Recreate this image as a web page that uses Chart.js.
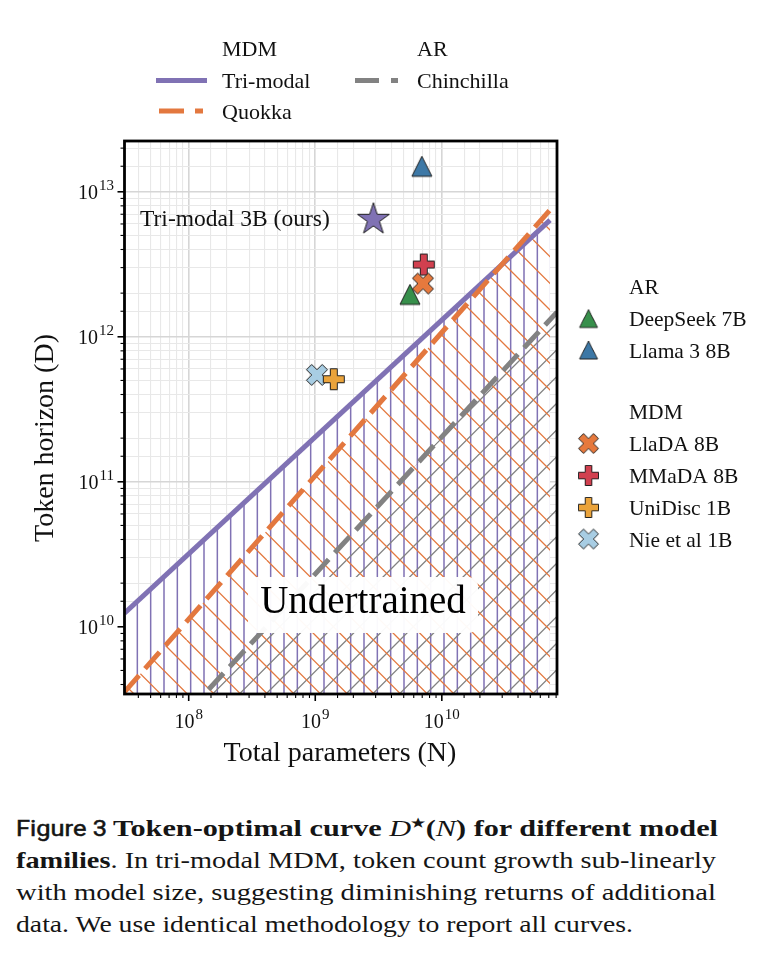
<!DOCTYPE html>
<html>
<head>
<meta charset="utf-8">
<script src="https://cdn.jsdelivr.net/npm/chart.js@4.4.1/dist/chart.umd.min.js"></script>
<style>
  body { margin: 0; background: #fff; width: 772px; height: 955px; overflow: hidden; position: relative; }
  #chart { position: absolute; left: 0; top: 0; }
  .cap { position: absolute; left: 16px; height: 32px; width: 740px; }
  .cap span.t { position: absolute; top: 0; white-space: nowrap; font-family: "Liberation Serif", "DejaVu Serif", serif;
                font-size: 23px; line-height: 32px; color: #151515; transform-origin: 0 50%; }
  .cap span.fig { font-family: Roboto, "Liberation Sans", sans-serif; font-weight: 400; font-size: 22px;
                  -webkit-text-stroke: 0.5px #151515; }
  .cap i { font-weight: normal; }
  .cap sup { font-size: 12px; vertical-align: 9px; line-height: 0; }
</style>
</head>
<body>
<canvas id="chart" width="772" height="790"></canvas>
<div class="cap" style="top:813px">
  <span class="t fig" data-w="91" style="left:0">Figure 3</span>
  <span class="t" data-w="605" style="left:97px"><b>Token-optimal curve <i>D</i><sup>★</sup>(<i>N</i>) for different model</b></span>
</div>
<div class="cap" style="top:845px"><span class="t" data-w="700" style="left:0"><b>families</b>. In tri-modal MDM, token count growth sub-linearly</span></div>
<div class="cap" style="top:877px"><span class="t" data-w="700" style="left:0">with model size, suggesting diminishing returns of additional</span></div>
<div class="cap" style="top:909px"><span class="t" data-w="617" style="left:0">data. We use identical methodology to report all curves.</span></div>
<script>
// token-optimal curves (N = total parameters, D = tokens), read at the line ends
const triModalN = [3.11e7, 7.16e10]
const triModalD = [1.24e10, 6.38e12]
const quokkaN = [3.11e7, 7.16e10]
const quokkaD = [3.56e9, 7.5e12]
const chinchillaN = [3.11e7, 8.13e10]
const chinchillaD = [8.7e8, 1.48e12]

// trained models
const modelNames = ['DeepSeek 7B', 'Llama 3 8B', 'LlaDA 8B', 'MMaDA 8B', 'UniDisc 1B', 'Nie et al 1B']
const modelFamily = ['AR', 'AR', 'MDM', 'MDM', 'MDM', 'MDM']
const modelN = [5.6e9, 6.95e9, 7.1e9, 7.2e9, 1.4e9, 1.03e9]
const modelD = [1.96e12, 1.5e13, 2.33e12, 3.15e12, 5.1e11, 5.46e11]
const oursName = 'Tri-modal 3B (ours)'
const oursN = [2.88e9]
const oursD = [6.6e12]

const xRange = [3.11e7, 8.13e10]
const yRange = [3.44e9, 2.24e13]
const xTickExps = [8, 9, 10]
const yTickExps = [10, 11, 12, 13]

const PURPLE = '#8072b4'
const ORANGE = '#e3783f'
const GREY = '#828282'
const modelColors = ['#378f4b', '#3d78a6', '#e6793d', '#d1404f', '#eaa33b', '#a8cde3']
const modelShapes = ['triangle', 'triangle', 'x', 'plus', 'plus', 'x']
const SERIF = '"Liberation Serif", "DejaVu Serif", serif'

const canvas = document.getElementById('chart')
const ctx = canvas.getContext('2d')

const hatch = (kind, color, width, face) => {
  const t = document.createElement('canvas')
  t.width = 80
  t.height = 80
  const g = t.getContext('2d')
  if (face) {
    g.fillStyle = face
    g.fillRect(0, 0, 80, 80)
  }
  g.strokeStyle = color
  g.lineWidth = width
  g.beginPath()
  if (kind === '|') {
    for (let k = 0; k < 6; k++) {
      const x = 80 / 6 * k + 4
      g.moveTo(x, 0)
      g.lineTo(x, 80)
    }
  } else {
    const s = 80 / 3
    for (let k = -4; k <= 4; k++) {
      if (kind === '\\') {
        g.moveTo(k * s, 0)
        g.lineTo(k * s + 80, 80)
      } else {
        g.moveTo(k * s, 80)
        g.lineTo(k * s + 80, 0)
      }
    }
  }
  g.stroke()
  return ctx.createPattern(t, 'repeat')
}

const marker = (shape, color) => {
  const size = shape === 'star' ? 38 : 26
  const c = document.createElement('canvas')
  c.width = size
  c.height = size
  const g = c.getContext('2d')
  let pts = []
  if (shape === 'triangle') {
    pts = [[0, -10], [-10, 10], [10, 10]]
  } else if (shape === 'plus') {
    const u = 10.5 / 3
    pts = [[-1, -3], [-1, -1], [-3, -1], [-3, 1], [-1, 1], [-1, 3], [1, 3], [1, 1], [3, 1], [3, -1], [1, -1], [1, -3]]
      .map(([a, b]) => [a * u, b * u])
  } else if (shape === 'x') {
    const u = 10.5 / 2
    pts = [[-1, -2], [0, -1], [1, -2], [2, -1], [1, 0], [2, 1], [1, 2], [0, 1], [-1, 2], [-2, 1], [-1, 0], [-2, -1]]
      .map(([a, b]) => [a * u, b * u])
  } else {
    for (let i = 0; i < 10; i++) {
      const a = (-90 + i * 36) * Math.PI / 180
      const r = i % 2 ? 16.8 * 0.381966 : 16.8
      pts.push([r * Math.cos(a), r * Math.sin(a) + 1.5])
    }
  }
  g.translate(size / 2, size / 2)
  g.beginPath()
  pts.forEach(([a, b], i) => i ? g.lineTo(a, b) : g.moveTo(a, b))
  g.closePath()
  g.fillStyle = color
  g.fill()
  g.strokeStyle = '#202020'
  g.lineWidth = 1
  g.stroke()
  return c
}

const modelMarkers = modelNames.map((_, i) => marker(modelShapes[i], modelColors[i]))
const starMarker = marker('star', PURPLE)

const pts = (xs, ys) => xs.map((x, i) => ({ x, y: ys[i] }))

const isMajor = (v) => Math.abs(Math.log10(v) - Math.round(Math.log10(v))) < 1e-6

const drawPower = (c, exp, x, y, align) => {
  c.font = '20px ' + SERIF
  const bw = c.measureText('10').width
  c.font = '15px ' + SERIF
  const sw = c.measureText(String(exp)).width
  const total = bw + 1 + sw
  const left = align === 'right' ? x - total : x - total / 2
  c.textAlign = 'left'
  c.textBaseline = 'alphabetic'
  c.font = '20px ' + SERIF
  c.fillText('10', left, y)
  c.font = '15px ' + SERIF
  c.fillText(String(exp), left + bw + 1, y - 9)
}

const decor = {
  id: 'decor',
  afterDatasetsDraw (chart) {
    const c = chart.ctx
    // "Undertrained" label box
    c.save()
    c.fillStyle = 'rgba(255,255,255,0.96)'
    c.beginPath()
    c.roundRect(248, 577, 230, 56, 9)
    c.fill()
    c.fillStyle = '#000'
    c.font = '39px ' + SERIF
    c.textAlign = 'center'
    c.textBaseline = 'alphabetic'
    c.fillText('Undertrained', 363, 613)
    c.font = '23.5px ' + SERIF
    c.textAlign = 'left'
    c.fillStyle = '#111'
    c.fillText(oursName, 140, 226)
    c.restore()
  },
  afterDraw (chart) {
    const c = chart.ctx
    const { left, right, top, bottom } = chart.chartArea
    const xs = chart.scales.x
    const ys = chart.scales.y
    c.save()
    // tick marks
    c.strokeStyle = '#000'
    xs.ticks.forEach((t) => {
      if (t.value <= xRange[0] || t.value >= xRange[1]) return
      const p = xs.getPixelForValue(t.value)
      const major = isMajor(t.value)
      c.lineWidth = major ? 1.6 : 1.1
      c.beginPath()
      c.moveTo(p, bottom)
      c.lineTo(p, bottom + (major ? 7 : 4))
      c.stroke()
    })
    ys.ticks.forEach((t) => {
      if (t.value <= yRange[0] || t.value >= yRange[1]) return
      const p = ys.getPixelForValue(t.value)
      const major = isMajor(t.value)
      c.lineWidth = major ? 1.6 : 1.1
      c.beginPath()
      c.moveTo(left, p)
      c.lineTo(left - (major ? 7 : 4), p)
      c.stroke()
    })
    // frame
    c.lineWidth = 2.8
    c.strokeRect(left, top, right - left, bottom - top)
    // tick labels
    c.fillStyle = '#111'
    xTickExps.forEach((e) => drawPower(c, e, xs.getPixelForValue(Math.pow(10, e)), 728, 'center'))
    yTickExps.forEach((e) => drawPower(c, e, 114, ys.getPixelForValue(Math.pow(10, e)) + 7, 'right'))
    // axis titles
    c.font = '28px ' + SERIF
    c.textAlign = 'center'
    c.textBaseline = 'alphabetic'
    c.fillText('Total parameters (N)', 340, 761)
    c.save()
    c.translate(53, 438)
    c.rotate(-Math.PI / 2)
    c.fillText('Token horizon (D)', 0, 0)
    c.restore()
    // top legend
    c.font = '22px ' + SERIF
    c.textAlign = 'left'
    c.fillText('MDM', 222, 56)
    c.fillText('AR', 417, 56)
    c.fillText('Tri-modal', 222, 88)
    c.fillText('Quokka', 222, 119)
    c.fillText('Chinchilla', 417, 88)
    c.lineWidth = 5
    c.lineCap = 'butt'
    const handle = (x0, x1, y, color, dash) => {
      c.strokeStyle = color
      c.setLineDash(dash)
      c.beginPath()
      c.moveTo(x0, y)
      c.lineTo(x1, y)
      c.stroke()
    }
    handle(156, 207, 80.5, PURPLE, [])
    handle(159, 203, 111, ORANGE, [25, 11])
    handle(355, 398, 80.5, GREY, [24, 12])
    c.setLineDash([])
    // right legend
    c.font = '21.5px ' + SERIF
    c.fillStyle = '#111'
    const rows = [318.5, 350, 443.5, 475.5, 507.5, 539]
    c.fillText('AR', 629, 294)
    c.fillText('MDM', 629, 419)
    modelNames.forEach((name, i) => {
      const m = modelMarkers[i]
      const s = modelShapes[i] === 'triangle' ? 0.9 : 0.95
      c.drawImage(m, 588.5 - m.width * s / 2, rows[i] - m.height * s / 2, m.width * s, m.height * s)
      c.fillText(name, 629, rows[i] + 7.5)
    })
    c.restore()
  }
}

const curve = (label, xs, ys, color, dash, fillPattern) => ({
  label,
  data: pts(xs, ys),
  borderColor: color,
  borderWidth: 5,
  borderDash: dash,
  borderCapStyle: 'butt',
  backgroundColor: fillPattern,
  fill: 'start',
  pointRadius: 0,
  tension: 0,
  clip: 0
})

const scatter = (label, xs, ys, style) => ({
  label,
  data: pts(xs, ys),
  showLine: false,
  pointStyle: style,
  pointRadius: 10,
  pointHoverRadius: 10,
  clip: false
})

const datasets = [
  scatter(oursName, oursN, oursD, starMarker),
  ...modelNames.map((n, i) => scatter(n, [modelN[i]], [modelD[i]], modelMarkers[i])),
  curve('Quokka', quokkaN, quokkaD, ORANGE, [22, 9], hatch('\\', ORANGE, 1.3)),
  curve('Chinchilla', chinchillaN, chinchillaD, GREY, [22, 9], hatch('/', GREY, 1.3)),
  curve('Tri-modal', triModalN, triModalD, PURPLE, [], hatch('|', PURPLE, 1.5, '#fff'))
]

const gridColor = (c) => isMajor(c.tick.value) ? '#d6d6d6' : '#e8e8e8'
const gridWidth = (c) => isMajor(c.tick.value) ? 1.6 : 1.1

new Chart(canvas, {
  type: 'line',
  data: { datasets },
  options: {
    responsive: false,
    animation: false,
    events: [],
    layout: { padding: { left: 124.5, top: 141, right: 215, bottom: 96 } },
    plugins: {
      legend: { display: false },
      tooltip: { enabled: false },
      filler: { drawTime: 'beforeDatasetsDraw' }
    },
    scales: {
      x: {
        type: 'logarithmic',
        min: xRange[0],
        max: xRange[1],
        afterFit: (s) => { s.height = 0 },
        border: { display: false },
        ticks: { display: false, autoSkip: false },
        grid: { drawTicks: false, color: gridColor, lineWidth: gridWidth }
      },
      y: {
        type: 'logarithmic',
        min: yRange[0],
        max: yRange[1],
        afterFit: (s) => { s.width = 0 },
        border: { display: false },
        ticks: { display: false, autoSkip: false },
        grid: { drawTicks: false, color: gridColor, lineWidth: gridWidth }
      }
    }
  },
  plugins: [decor]
})

// fit each caption piece to the width it has in the figure
document.querySelectorAll('.cap span.t').forEach((el) => {
  const w = el.getBoundingClientRect().width
  el.style.transform = 'scaleX(' + (+el.dataset.w / w) + ')'
})
</script>
</body>
</html>
